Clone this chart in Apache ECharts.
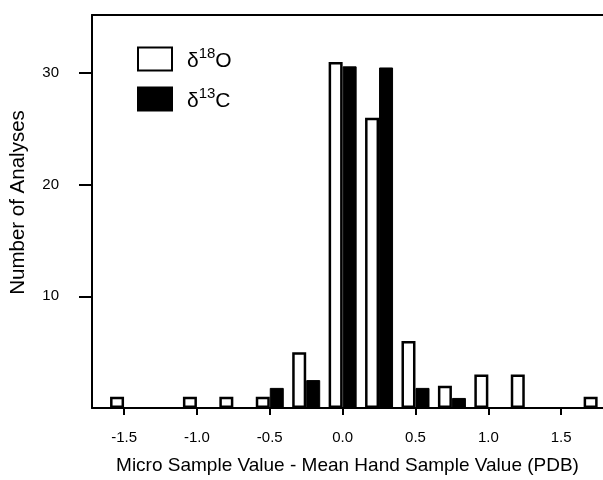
<!DOCTYPE html>
<html>
<head>
<meta charset="utf-8">
<script src="https://cdn.jsdelivr.net/npm/echarts@6/dist/echarts.min.js"></script>
<style>html,body{margin:0;padding:0;background:#fff;}#c{width:603px;height:480px;}</style>
</head>
<body>
<div id="c"></div>
<script>
// Bin centers (PDB difference) and counts
var o18Bins = [-1.5, -1.0, -0.75, -0.5, -0.25, 0.0, 0.25, 0.5, 0.75, 1.0, 1.25, 1.75];
var o18Counts = [1, 1, 1, 1, 5, 31, 26, 6, 2, 3, 3, 1];
var c13Bins = [-0.5, -0.25, 0.0, 0.25, 0.5, 0.75];
var c13Counts = [1.8, 2.5, 30.6, 30.5, 1.8, 0.9];
var xTickLabels = [-1.5, -1.0, -0.5, 0.0, 0.5, 1.0, 1.5];
var yTickLabels = [10, 20, 30];

var font = '"Liberation Sans", Arial, sans-serif';
function pairs(xs, ys) { return xs.map(function (x, i) { return [x, ys[i]]; }); }

var xMin = -1.72, xMax = -1.72 + 512 / 146;
var chart = echarts.init(document.getElementById('c'), null, { renderer: 'canvas' });
chart.setOption({
  animation: false,
  backgroundColor: '#fff',
  textStyle: { fontFamily: font, color: '#000' },
  grid: { left: 91, top: 15, right: 0, height: 394, show: false },
  legend: {
    orient: 'vertical', left: 137, top: 46, padding: 0, itemWidth: 34, itemHeight: 23, itemGap: 14,
    icon: 'rect',
    data: ['o18', 'c13'],
    textStyle: {
      color: '#000', fontFamily: font, padding: [0, 0, 0, 10],
      rich: {
        d: { fontSize: 21, fontFamily: font, verticalAlign: 'bottom', lineHeight: 26 },
        s: { fontSize: 15, fontFamily: font, verticalAlign: 'top', lineHeight: 24 },
        n: { fontSize: 21, fontFamily: font, verticalAlign: 'bottom', lineHeight: 26 }
      }
    },
    formatter: function (name) {
      return name === 'o18' ? '{d|δ}{s|18}{n|O}' : '{d|δ}{s|13}{n|C}';
    }
  },
  xAxis: [{
    type: 'value', min: xMin, max: xMax,
    splitLine: { show: false },
    axisLine: { show: true, onZero: false, lineStyle: { color: '#000', width: 2 } },
    axisTick: { show: true, length: 7, lineStyle: { color: '#000', width: 2 }, customValues: xTickLabels },
    axisLabel: { fontSize: 15, color: '#000', margin: 22, fontFamily: font, customValues: xTickLabels,
      formatter: function (v) { return v.toFixed(1); } },
    name: 'Micro Sample Value - Mean Hand Sample Value (PDB)',
    nameLocation: 'middle', nameGap: 48,
    nameTextStyle: { fontSize: 19, color: '#000', fontFamily: font }
  }, {
    type: 'value', position: 'top', min: xMin, max: xMax,
    splitLine: { show: false },
    axisLine: { show: true, onZero: false, lineStyle: { color: '#000', width: 2 } },
    axisTick: { show: false }, axisLabel: { show: false }
  }],
  yAxis: {
    type: 'value', min: 0, max: 35.2,
    splitLine: { show: false },
    axisLine: { show: true, onZero: false, lineStyle: { color: '#000', width: 2 } },
    axisTick: { show: true, length: 13, lineStyle: { color: '#000', width: 2 }, customValues: yTickLabels },
    axisLabel: { fontSize: 15, color: '#000', margin: 33, fontFamily: font, customValues: yTickLabels },
    name: 'Number of Analyses',
    nameLocation: 'middle', nameGap: 63, nameRotate: 90,
    nameTextStyle: { fontSize: 20.5, color: '#000', fontFamily: font, padding: [0, 0, 0, 18] }
  },
  series: [
    {
      name: 'o18', type: 'bar', barWidth: 14, barGap: '0%',
      itemStyle: { color: '#fff', borderColor: '#000', borderWidth: 2.5 },
      data: pairs(o18Bins, o18Counts)
    },
    {
      name: 'c13', type: 'bar', barWidth: 14, barGap: '0%',
      itemStyle: { color: '#000', borderColor: '#000', borderWidth: 1 },
      data: pairs(c13Bins, c13Counts)
    }
  ]
});
</script>
</body>
</html>
